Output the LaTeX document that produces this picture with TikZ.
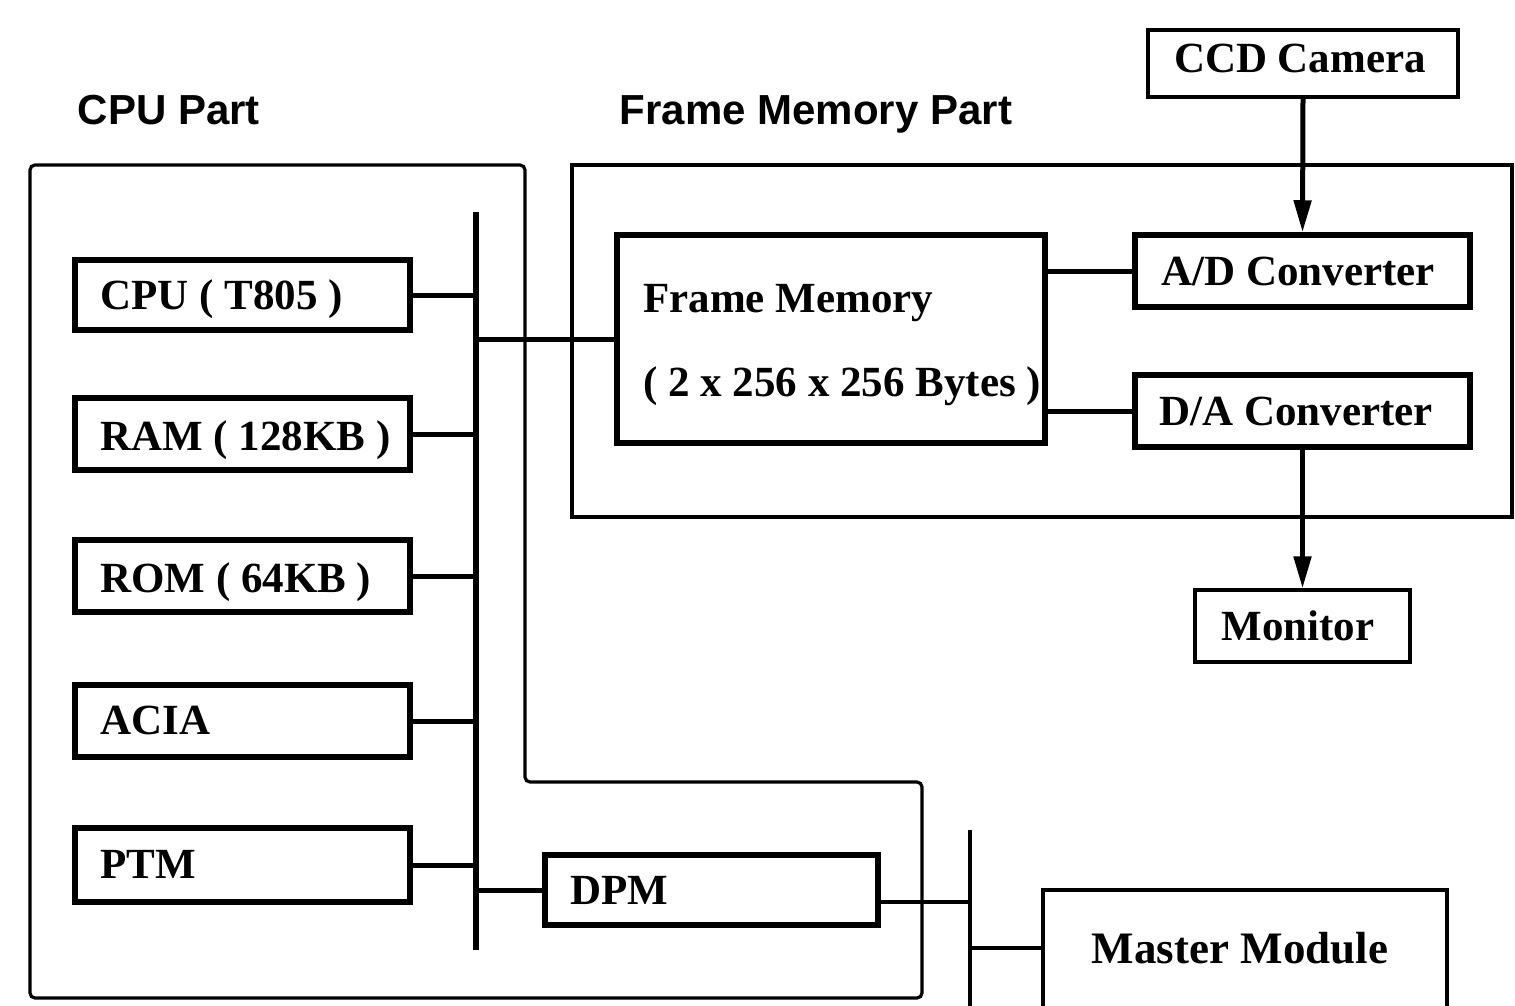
\documentclass[tikz,border=0pt]{standalone}
\usepackage{fontspec}
\setmainfont{Liberation Serif}
\newfontfamily\labelsans{Liberation Sans}
\usetikzlibrary{arrows.meta}
\begin{document}
\begin{tikzpicture}[x=1pt,y=-1pt,
  blk/.style={draw, line width=5.5pt, inner sep=0pt},
  tblk/.style={draw, line width=3.2pt, inner sep=0pt},
  thinln/.style={line width=3.2pt},
  thickln/.style={line width=5pt},
  bus/.style={line width=6pt},
  arr/.style={line width=5pt, -{Triangle[length=32pt,width=17pt]}},
  txt/.style={inner sep=0pt, font=\fontsize{43}{50}\selectfont\bfseries},
  ttl/.style={inner sep=0pt, font=\fontsize{42}{50}\selectfont\labelsans\bfseries}
]
\path[use as bounding box] (0,0) rectangle (1515,1005);
\clip (0,0) rectangle (1515,1005);

% part titles
\node[ttl, anchor=base] (cpupartT) at (169,124) {CPU Part};
\node[ttl, anchor=base] (fmpartT) at (816,124) {Frame Memory Part};

% part outlines
\draw[thinln, rounded corners=5pt] (30,165) -- (525,165) -- (525,782) -- (922,782) -- (922,998) -- (30,998) -- cycle;
\draw[thinln] (572,165) rectangle (1512,517);

% CPU bus
\coordinate (busT) at (476,212);
\coordinate (busB) at (476,950);
\draw[bus] (busT) -- (busB);

% CPU part blocks
\node[blk, minimum width=335pt, minimum height=70pt] (cpu)  at (242.5,295) {};
\node[blk, minimum width=335pt, minimum height=72pt] (ram)  at (242.5,434) {};
\node[blk, minimum width=335pt, minimum height=72pt] (rom)  at (242.5,576) {};
\node[blk, minimum width=335pt, minimum height=72pt] (acia) at (242.5,721) {};
\node[blk, minimum width=335pt, minimum height=74pt] (ptm)  at (242.5,865) {};
\node[blk, minimum width=333pt, minimum height=70pt] (dpm)  at (711.5,890) {};

\node[txt, anchor=base west] (cpuT)  at (100,309) {CPU ( T805 )};
\node[txt, anchor=base west] (ramT)  at (100,450) {RAM ( 128KB )};
\node[txt, anchor=base west] (romT)  at (100,592) {ROM ( 64KB )};
\node[txt, anchor=base west] (aciaT) at (100,734) {ACIA};
\node[txt, anchor=base west] (ptmT)  at (100,878) {PTM};
\node[txt, anchor=base west] (dpmT)  at (570,904) {DPM};

\foreach \n in {cpu,ram,rom,acia,ptm}
  \draw[thickln] (\n.east) -- (\n.east -| busT);
\draw[thickln] (dpm.west) -- (dpm.west -| busT);

% frame memory part
\node[blk, minimum width=428pt, minimum height=208pt] (fm) at (831,339) {};
\node[txt, anchor=base west] (fmT1) at (643,312) {Frame Memory};
\node[txt, anchor=base west] (fmT2) at (643,396) {( 2 x 256 x 256 Bytes )};
\draw[thickln] (fm.west) -- (fm.west -| busT);

\node[blk, minimum width=335pt, minimum height=72pt] (ad) at (1302.5,271) {};
\node[txt, anchor=base] (adT) at (1298,285) {A/D Converter};
\node[blk, minimum width=335pt, minimum height=72pt] (da) at (1302.5,411) {};
\node[txt, anchor=base] (daT) at (1296,425) {D/A Converter};
\draw[thickln] (ad.west) -- (ad.west -| fm.east);
\draw[thickln] (da.west) -- (da.west -| fm.east);

% camera and monitor
\node[tblk, minimum width=310pt, minimum height=67pt] (ccd) at (1303,63.5) {};
\node[txt, anchor=base] (ccdT) at (1300,72) {CCD Camera};
\node[tblk, minimum width=215pt, minimum height=72pt] (mon) at (1302.5,626) {};
\node[txt, anchor=base] (monT) at (1298,640) {Monitor};
\draw[arr] (ccd.south) -- (ad.north);
\draw[arr] (da.south) -- (mon.north);

% master side
\coordinate (b2T) at (970,830);
\coordinate (b2B) at (970,1010);
\draw[thinln] (b2T) -- (b2B);
\node[tblk, minimum width=404pt, minimum height=130pt] (master) at (1245,955) {};
\node[txt, anchor=base, font=\fontsize{45}{52}\selectfont\bfseries] (masterT) at (1240,963) {Master Module};
\draw[thinln] ([yshift=-12pt]dpm.east) -- ([yshift=-12pt]dpm.east -| b2T);
\draw[thinln] ([yshift=7pt]master.west) -- ([yshift=7pt]master.west -| b2T);
\end{tikzpicture}
\end{document}
